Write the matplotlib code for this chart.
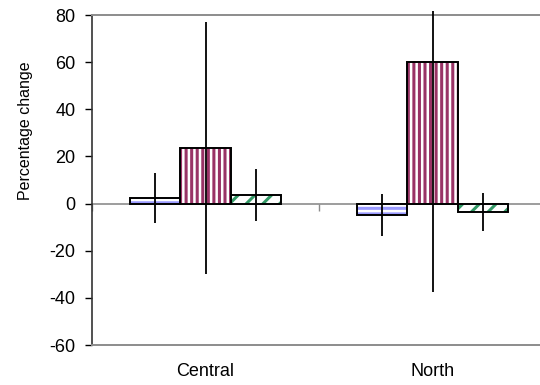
import numpy as np
import matplotlib
matplotlib.use("Agg")
import matplotlib.pyplot as plt
from matplotlib.patches import Rectangle

plt.rcParams["font.family"] = ["Liberation Sans", "DejaVu Sans"]
plt.rcParams["axes.unicode_minus"] = False
plt.rcParams["hatch.linewidth"] = 2.2

# data
regions = ["Central", "North"]
series_a = [2.5, -5.0]
series_b = [23.5, 60.0]
series_c = [3.5, -3.5]
err_a = [10.6, 8.9]
err_b = [53.5, 97.5]
err_c = [11.0, 8.1]

series = [series_a, series_b, series_c]
errors = [err_a, err_b, err_c]
hatches = ["---", "|||", "//"]
hatch_colors = ["#9999ff", "#993366", "#339966"]

fig = plt.figure(figsize=(5.4, 3.85), dpi=100)
ax = fig.add_axes([92 / 540, 1 - 345 / 385, 454 / 540, 330 / 385])

x = np.arange(len(regions))
width = 0.222
offsets = [-width, 0, width]

for vals, errs, h, hc, off in zip(series, errors, hatches, hatch_colors, offsets):
    # pattern layer
    ax.bar(x + off, vals, width, color="white", edgecolor=hc, hatch=h,
           linewidth=0, zorder=2)
    # outline
    ax.bar(x + off, vals, width, fill=False, edgecolor="black",
           linewidth=1.4, zorder=3)
    eb = ax.errorbar(x + off, vals, yerr=errs, fmt="none", ecolor="black",
                     elinewidth=1.3, capsize=0, zorder=4)
    clip = Rectangle((0, 0), 1, 1.012, transform=ax.transAxes, visible=False)
    ax.add_patch(clip)
    for coll in eb.lines[2]:
        coll.set_clip_on(True)
        coll.set_clip_path(clip)

ax.set_xlim(-0.5, len(regions) - 0.5)
ax.set_ylim(-60, 80)
ax.set_yticks(np.arange(-60, 81, 20))
ax.tick_params(axis="y", direction="out", length=5, width=1, labelsize=13,
               color="black", pad=7)

ax.set_xticks(x)
ax.set_xticklabels(regions, fontsize=13)
ax.tick_params(axis="x", length=0, pad=13)

ax.spines["right"].set_visible(False)
ax.spines["left"].set_color("#333333")
ax.spines["left"].set_linewidth(1.2)
for side in ["top", "bottom"]:
    ax.spines[side].set_color("#8c8c8c")
    ax.spines[side].set_linewidth(1.4)

# zero line with category boundary ticks
y0, y1 = ax.get_ylim()
zero_axis = ax.secondary_xaxis((0 - y0) / (y1 - y0))
zero_axis.set_xticks(np.arange(len(regions) + 1) - 0.5)
zero_axis.set_xticklabels([])
zero_axis.tick_params(direction="out", length=5, width=1, color="#8c8c8c")
zero_axis.spines["bottom"].set_color("#8c8c8c")
zero_axis.spines["bottom"].set_linewidth(1.2)
zero_axis.set_zorder(1)

ax.set_ylabel("Percentage change", fontsize=11.5)
ax.yaxis.set_label_coords(-0.13, 0.65)

fig.savefig("out.png", dpi=100)
